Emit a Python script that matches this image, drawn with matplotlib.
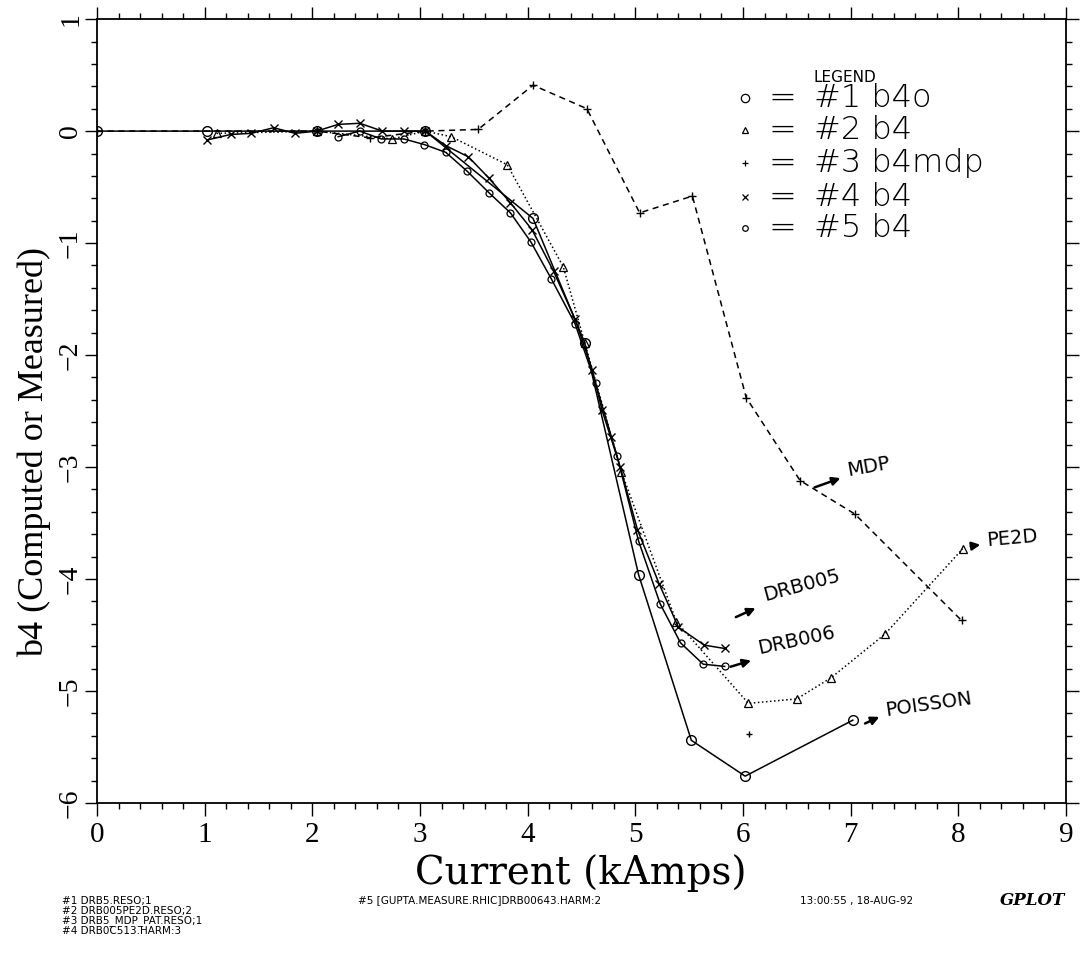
import matplotlib
matplotlib.use("Agg")
import matplotlib.pyplot as plt
from matplotlib.ticker import MultipleLocator

# ---- data: b4 vs current for five runs ----
s1_x = [0.0, 1.02, 2.04, 3.05, 4.05, 4.53, 5.03, 5.52, 6.02, 7.02]
s1_y = [0.0, 0.0, 0.0, 0.0, -0.78, -1.89, -3.96, -5.44, -5.76, -5.26]

s2_x = [1.11, 2.04, 2.74, 3.05, 3.29, 3.81, 4.33, 4.53, 4.87, 5.38, 6.05, 6.50, 6.82, 7.32, 8.04]
s2_y = [-0.02, 0.0, -0.07, 0.0, -0.05, -0.30, -1.21, -1.89, -3.04, -4.38, -5.11, -5.07, -4.88, -4.49, -3.73]

s3_x = [0.0, 2.04, 2.54, 3.05, 3.54, 4.05, 4.55, 5.04, 5.53, 6.03, 6.53, 7.04, 8.03]
s3_y = [0.0, 0.0, -0.06, 0.0, 0.015, 0.41, 0.20, -0.73, -0.58, -2.38, -3.12, -3.42, -4.37]
s3_stray_x = [6.06]
s3_stray_y = [-5.38]

s4_x = [1.02, 1.24, 1.43, 1.64, 1.84, 2.04, 2.24, 2.44, 2.65, 2.85, 3.05, 3.24, 3.45, 3.64,
        3.84, 4.04, 4.24, 4.44, 4.60, 4.69, 4.77, 4.86, 5.02, 5.22, 5.40, 5.64, 5.83]
s4_y = [-0.08, -0.03, -0.02, 0.03, -0.02, 0.0, 0.06, 0.07, 0.0, 0.0, 0.0, -0.13, -0.23, -0.42,
        -0.64, -0.88, -1.25, -1.68, -2.13, -2.49, -2.73, -3.00, -3.56, -4.04, -4.43, -4.59, -4.62]

s5_x = [2.24, 2.44, 2.64, 2.85, 3.04, 3.24, 3.44, 3.64, 3.84, 4.03, 4.22, 4.44, 4.63, 4.83,
        5.03, 5.23, 5.42, 5.63, 5.83]
s5_y = [-0.05, 0.0, -0.07, -0.07, -0.12, -0.19, -0.36, -0.55, -0.73, -0.99, -1.32, -1.72,
        -2.25, -2.90, -3.66, -4.22, -4.57, -4.76, -4.78]

legend_marks = ["o", "^", "+", "x", "o"]
legend_sizes = [6, 5, 5, 5, 4]
legend_labels = ["#1 b4o", "#2 b4", "#3 b4mdp", "#4 b4", "#5 b4"]

file_lines = ["#1 DRB5.RESO;1", "#2 DRB005PE2D.RESO;2", "#3 DRB5_MDP_PAT.RESO;1", "#4 DRB0C513.HARM:3"]
file5 = "#5 [GUPTA.MEASURE.RHIC]DRB00643.HARM:2"
stamp = "13:00:55 , 18-AUG-92"

SERIF = "Liberation Serif"
NARROW = "Liberation Sans Narrow"

fig = plt.figure(figsize=(10.85, 9.56), dpi=100)
ax = fig.add_axes([0.0894, 0.160, 0.8931, 0.820])

k = dict(color="black", mfc="none", mec="black")
ax.plot(s1_x, s1_y, "-", lw=1.1, marker="o", ms=7, mew=1.0, **k)
ax.plot(s2_x, s2_y, ":", lw=1.1, marker="^", ms=5.5, mew=0.9, **k)
ax.plot(s3_x, s3_y, "--", lw=1.1, marker="+", ms=6, mew=1.0, dashes=(4, 3), **k)
ax.plot(s3_stray_x, s3_stray_y, "none", marker="+", ms=4, mew=1.0, **k)
ax.plot(s4_x, s4_y, "-", lw=1.1, marker="x", ms=6, mew=1.0, **k)
ax.plot(s5_x, s5_y, "-", lw=1.1, marker="o", ms=5, mew=0.9, **k)

ax.set_xlim(0, 9)
ax.set_ylim(-6, 1)
ax.xaxis.set_major_locator(MultipleLocator(1))
ax.xaxis.set_minor_locator(MultipleLocator(0.2))
ax.yaxis.set_major_locator(MultipleLocator(1))
ax.yaxis.set_minor_locator(MultipleLocator(0.2))
ax.tick_params(which="both", direction="out", top=True, right=True, width=1.0)
ax.tick_params(which="major", length=9)
ax.tick_params(which="minor", length=4.5)
ax.tick_params(axis="x", labelsize=21, pad=5)
ax.tick_params(axis="y", labelsize=20, labelrotation=90, pad=1)
for lab in ax.get_xticklabels() + ax.get_yticklabels():
    lab.set_family(SERIF)
for lab in ax.get_yticklabels():
    lab.set_va("center")
for sp in ax.spines.values():
    sp.set_linewidth(1.3)

fig.text(0.535, 0.087, "Current (kAmps)", family="DejaVu Serif", fontsize=28, ha="center", va="center")
fig.text(0.032, 0.527, "b4 (Computed or Measured)", family=SERIF, fontsize=26,
         ha="center", va="center", rotation=90)

# legend block drawn by hand
ax.text(0.772, 0.925, "LEGEND", transform=ax.transAxes, fontsize=11, ha="center", va="center",
        family=NARROW)
row_y = [0.899, 0.858, 0.816, 0.773, 0.733]
for m, ms, lbl, yy in zip(legend_marks, legend_sizes, legend_labels, row_y):
    ax.plot([0.669], [yy], marker=m, ms=ms, mew=0.9, transform=ax.transAxes, **k)
    ax.text(0.693, yy, "=", transform=ax.transAxes, fontsize=24, ha="left", va="center",
            family="DejaVu Sans", fontweight="light")
    ax.text(0.740, yy, lbl, transform=ax.transAxes, fontsize=23, ha="left", va="center",
            family="DejaVu Sans", fontweight="light")

# hand-written curve notes
notes = [
    ((6.64, -3.19), (6.93, -3.09), "MDP", (6.97, -3.03), 10),
    ((5.91, -4.35), (6.14, -4.25), "DRB005", (6.19, -4.15), 15),
    ((5.86, -4.79), (6.10, -4.72), "DRB006", (6.14, -4.62), 12),
    ((8.09, -3.71), (8.23, -3.69), "PE2D", (8.26, -3.66), 5),
    ((7.11, -5.30), (7.29, -5.22), "POISSON", (7.32, -5.17), 8),
]
for tail, head, txt, pos, rot in notes:
    ax.annotate("", xy=head, xytext=tail,
                arrowprops=dict(arrowstyle="-|>", color="black", lw=1.8, mutation_scale=12))
    ax.text(pos[0], pos[1], txt, fontsize=14, ha="left", va="center", rotation=rot,
            rotation_mode="anchor", family="DejaVu Sans")

# run identification footer
for i, line in enumerate(file_lines):
    fig.text(0.057, 0.058 - i * 0.0105, line, fontsize=7.5, ha="left", va="center", family=NARROW)
fig.text(0.330, 0.058, file5, fontsize=7.5, ha="left", va="center", family=NARROW)
fig.text(0.737, 0.058, stamp, fontsize=7.5, ha="left", va="center", family=NARROW)
fig.text(0.922, 0.058, "GPLOT", fontsize=12, ha="left", va="center", family="DejaVu Serif",
         fontweight="bold", style="italic")

fig.savefig("out.png", dpi=100, facecolor="white")
